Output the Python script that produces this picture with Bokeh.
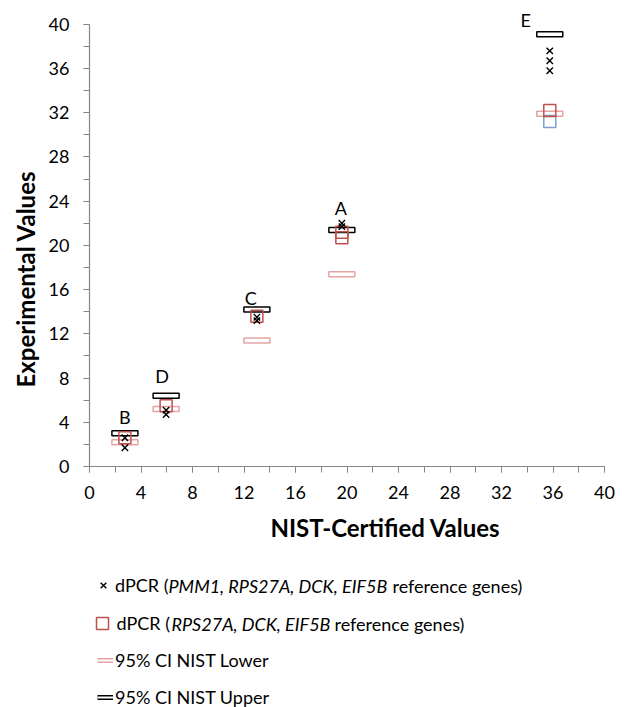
from bokeh.plotting import figure
from bokeh.layouts import column
from bokeh.models import Legend, LegendItem, Label, SingleIntervalTicker, Range1d, ColumnDataSource, Title
from bokeh.embed import file_html
from bokeh.resources import INLINE

# ---- data ----
samples = ["A", "B", "C", "D", "E"]
nist_certified = [19.6, 2.75, 13.0, 5.95, 35.75]
ci_upper = [21.4, 3.0, 14.2, 6.4, 39.1]
ci_lower = [17.4, 2.2, 11.4, 5.2, 31.9]

# dPCR (PMM1, RPS27A, DCK, EIF5B reference genes)
dpcr4_sample = ["A", "A", "B", "B", "C", "C", "D", "D", "E", "E", "E"]
dpcr4_value = [22.0, 21.7, 2.6, 1.7, 13.5, 13.2, 5.1, 4.7, 37.6, 36.7, 35.8]

# dPCR (RPS27A, DCK, EIF5B reference genes)
dpcr3_sample = ["A", "A", "B", "C", "D", "E"]
dpcr3_value = [21.2, 20.7, 2.6, 13.6, 5.5, 32.2]

# extra (blue) series at sample E
extra_sample = ["E"]
extra_value = [31.2]

axis_min, axis_max, tick_interval = 0, 40, 4

# ---- styles ----
FONT = "Lato"
RED = "#c0504d"
PINK = "#e3a5a3"
BLUE = "#7f9fcf"
AXIS = "#868686"
label_offsets = {"A": (-1, 22), "B": (0, 16), "C": (-6, 12), "D": (-4, 20), "E": (-24, 14)}

xmap = dict(zip(samples, nist_certified))

p = figure(width=633, height=550, x_range=Range1d(axis_min, axis_max),
           y_range=Range1d(axis_min, 41.7),
           output_backend="svg", toolbar_location=None,
           min_border_left=89, min_border_right=29, min_border_top=5, min_border_bottom=83)
p.outline_line_color = None
p.grid.visible = False

for ax in (p.xaxis[0], p.yaxis[0]):
    ax.ticker = SingleIntervalTicker(interval=tick_interval, num_minor_ticks=2)
    ax.bounds = (axis_min, axis_max)
    ax.axis_line_color = AXIS
    ax.axis_line_width = 1.2
    ax.major_tick_line_color = AXIS
    ax.minor_tick_line_color = AXIS
    ax.major_tick_in = 0
    ax.major_tick_out = 6
    ax.minor_tick_in = 0
    ax.minor_tick_out = 6
    ax.major_label_text_font = FONT
    ax.major_label_text_font_size = "18px"
    ax.major_label_text_color = "black"
p.xaxis[0].major_label_standoff = 13
p.yaxis[0].major_label_standoff = 14

p.add_layout(Title(text="NIST-Certified Values", align="left", offset=181, text_font=FONT,
                   text_font_size="24px", text_font_style="bold", text_color="black",
                   standoff=18), "below")
p.add_layout(Title(text="Experimental Values", align="left", offset=79, text_font=FONT,
                   text_font_size="24px", text_font_style="bold", text_color="black",
                   standoff=12), "left")

src_ci = ColumnDataSource(dict(x=nist_certified, up=ci_upper, lo=ci_lower))
src4 = ColumnDataSource(dict(x=[xmap[s] for s in dpcr4_sample], y=dpcr4_value))
src3 = ColumnDataSource(dict(x=[xmap[s] for s in dpcr3_sample], y=dpcr3_value))
srcx = ColumnDataSource(dict(x=[xmap[s] for s in extra_sample], y=extra_value))

p.rect("x", "up", width=26, height=5, width_units="screen", height_units="screen",
       source=src_ci, fill_color=None, line_color="black", line_width=1.5)
p.rect("x", "lo", width=26, height=5, width_units="screen", height_units="screen",
       source=src_ci, fill_color=None, line_color=PINK, line_width=1.5)
p.scatter("x", "y", source=srcx, marker="square", size=12, fill_color=None,
          line_color=BLUE, line_width=1.5)
p.scatter("x", "y", source=src3, marker="square", size=12, fill_color=None,
          line_color=RED, line_width=1.5)
p.scatter("x", "y", source=src4, marker="x", size=9, line_color="black", line_width=1.4)

for s, xv, uv in zip(samples, nist_certified, ci_upper):
    dx, dy = label_offsets[s]
    p.add_layout(Label(x=xv, y=uv, x_offset=dx, y_offset=dy, text=s, text_font=FONT,
                       text_font_size="18px", text_align="center", text_baseline="middle",
                       text_color="black"))

# ---- legend panel (its frame is aligned with the plot frame) ----
lf = figure(width=633, height=157, x_range=Range1d(0, 1), y_range=Range1d(0, 1),
            output_backend="svg", toolbar_location=None,
            x_axis_location=None, y_axis_location=None, min_border=0)
lf.outline_line_color = None
lf.grid.visible = False

# legend-key renderers (their single point lies outside the panel's range, so only the key shows)
OFF = dict(x=[-5], y=[-5])
k_x = lf.scatter(source=ColumnDataSource(OFF), marker="x", line_color="black", line_width=1.4)
k_sq = lf.scatter(source=ColumnDataSource(OFF), marker="square", fill_color=None,
                  line_color=RED, line_width=1.5)
k_lo_o = lf.line(source=ColumnDataSource(OFF), line_color=PINK, line_width=5)
k_lo_i = lf.line(source=ColumnDataSource(OFF), line_color="white", line_width=2)
k_up_o = lf.line(source=ColumnDataSource(OFF), line_color="black", line_width=5)
k_up_i = lf.line(source=ColumnDataSource(OFF), line_color="white", line_width=2)

LEG_FS = "18px"

def make_legend(items, loc, gw, gh, standoff):
    lg = Legend(items=items, location=loc, orientation="vertical", glyph_width=gw, glyph_height=gh,
                label_height=gh, label_standoff=standoff, padding=0, margin=0, spacing=0,
                border_line_color=None, background_fill_alpha=0, label_text_font=FONT,
                label_text_font_size=LEG_FS, label_text_color="black")
    lf.add_layout(lg, "center")

make_legend([LegendItem(label="dPCR (", renderers=[k_x])], (4, 110), 20, 24, 2)
make_legend([LegendItem(label="dPCR (", renderers=[k_sq])], (-2.5, 69), 30, 30, 0)
make_legend([LegendItem(label="95% CI NIST Lower", renderers=[k_lo_o, k_lo_i])], (8, 35), 16, 24, 2)
make_legend([LegendItem(label="95% CI NIST Upper", renderers=[k_up_o, k_up_i])], (8, -2), 16, 24, 2)

def seg(text, x, y, style="normal"):
    lf.add_layout(Label(x=x, y=y, x_units="screen", y_units="screen", text=text, text_font=FONT,
                        text_font_size=LEG_FS, text_font_style=style, text_baseline="middle",
                        text_color="black"))

seg("PMM1, RPS27A, DCK, EIF5B", 79, 122, "italic")
seg("reference genes)", 303, 122)
seg("RPS27A, DCK, EIF5B", 82, 84, "italic")
seg("reference genes)", 245, 84)

layout = column(p, lf, spacing=0)
open("out.html", "w").write(file_html(layout, INLINE))
